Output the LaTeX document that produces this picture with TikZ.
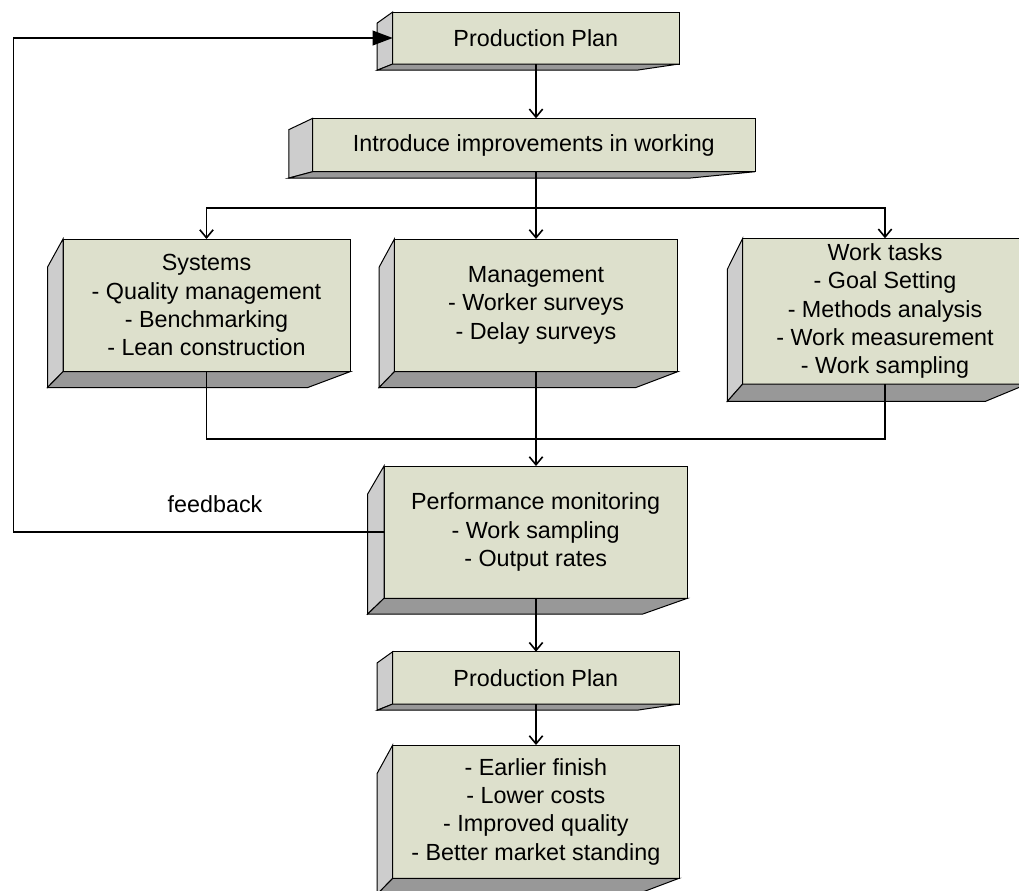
\documentclass[tikz,border=0pt]{standalone}
\usepackage{fontspec}
\setmainfont{Liberation Sans}
\usetikzlibrary{arrows.meta,calc}

\definecolor{facecol}{RGB}{221,224,204}
\definecolor{sidecol}{RGB}{205,205,205}
\definecolor{bottomcol}{RGB}{152,152,152}

\tikzset{
  x=0.75pt, y=0.75pt,
  box3d/.style={draw=black, line width=0.75pt, fill=facecol, inner sep=0pt,
    outer sep=0pt, align=center, font=\fontsize{17.5}{21.2}\selectfont},
  sideface/.style={draw=black, line width=0.75pt, fill=sidecol},
  bottomface/.style={draw=black, line width=0.75pt, fill=bottomcol},
  conn/.style={draw=black, line width=1.2pt},
  arr/.style={conn, -{Straight Barb[length=6pt,width=10pt,line width=1.2pt]}},
  fbarr/.style={conn, -{Triangle[length=15pt,width=11pt]}},
  lbl/.style={font=\fontsize{17.5}{21.2}\selectfont, inner sep=0pt}
}

% left side and bottom face of an extruded box, receding to the lower left
\newcommand\boxsides[1]{%
  \filldraw[sideface] let \p1=(#1.south west), \p2=(#1.north east) in
    (#1.north west)
    -- ({\x1-0.054*(\x2-\x1)}, {\y2-0.212*(\y2-\y1)})
    -- ({\x1-0.054*(\x2-\x1)}, {\y1-0.119*(\y2-\y1)})
    -- (#1.south west) -- cycle;
  \filldraw[bottomface] let \p1=(#1.south west), \p2=(#1.north east) in
    (#1.south west) -- (#1.south east)
    -- ({\x2-0.147*(\x2-\x1)}, {\y1-0.119*(\y2-\y1)})
    -- ({\x1-0.054*(\x2-\x1)}, {\y1-0.119*(\y2-\y1)}) -- cycle;
}

\begin{document}
\begin{tikzpicture}
\useasboundingbox (0,0) rectangle (1019,-890);
\clip (0,0) rectangle (1019,-890);

% boxes (front faces)
\node[box3d, minimum width=286.3*0.75pt, minimum height=52*0.75pt]
  (pp1) at (535.85,-38) {Production Plan};
\node[box3d, minimum width=442.3*0.75pt, minimum height=53.4*0.75pt]
  (intro) at (533.85,-145) {Introduce improvements in working};
\node[box3d, minimum width=287*0.75pt, minimum height=132.7*0.75pt]
  (sys) at (206.5,-305.35) {Systems\\- Quality management\\- Benchmarking\\- Lean construction};
\node[box3d, minimum width=283.2*0.75pt, minimum height=132.7*0.75pt]
  (mgmt) at (536,-305.35) {Management\\- Worker surveys\\- Delay surveys};
\node[box3d, minimum width=284.6*0.75pt, minimum height=145.7*0.75pt]
  (work) at (885,-311.15) {Work tasks\\- Goal Setting\\- Methods analysis\\- Work measurement\\- Work sampling};
\node[box3d, minimum width=303.3*0.75pt, minimum height=132.3*0.75pt]
  (perf) at (535.65,-532.15) {Performance monitoring\\- Work sampling\\- Output rates};
\node[box3d, minimum width=286.3*0.75pt, minimum height=52.3*0.75pt]
  (pp2) at (535.85,-677.85) {Production Plan};
\node[box3d, minimum width=286.3*0.75pt, minimum height=133.3*0.75pt]
  (final) at (535.85,-811.65) {- Earlier finish\\- Lower costs\\- Improved quality\\- Better market standing};

\boxsides{pp1}
\boxsides{intro}
\boxsides{sys}
\boxsides{mgmt}
\boxsides{work}
\boxsides{perf}
\boxsides{pp2}
\boxsides{final}

% junction points
\coordinate (fork) at (536,-207.7);
\coordinate (join) at (536,-439);
\coordinate (fbx) at (13.3,-38);

% connectors
\draw[arr] (pp1.south -| fork) -- (intro.north -| fork);
\draw[arr] (intro.south -| fork) -- (mgmt.north -| fork);
\draw[arr] (fork) -| (sys.north);
\draw[arr] (fork) -| (work.north);
\draw[conn] (sys.south) |- (join);
\draw[conn] (work.south) |- (join);
\draw[arr] (mgmt.south) -- (perf.north -| mgmt.south);
\draw[arr] (perf.south -| fork) -- (pp2.north -| fork);
\draw[arr] (pp2.south -| fork) -- (final.north -| fork);
\draw[fbarr] (perf.west) -- (perf.west -| fbx) |- (pp1.west);

\node[lbl] (fblabel) at (215,-504) {feedback};
\end{tikzpicture}
\end{document}
